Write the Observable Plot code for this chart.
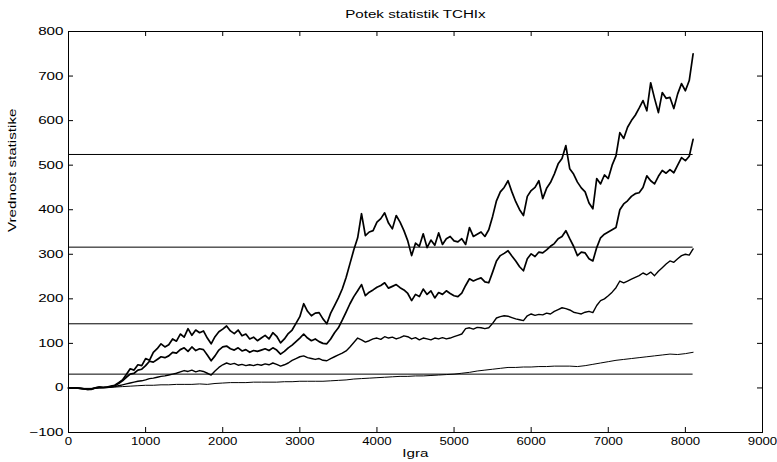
<!DOCTYPE html>
<html>
<head>
<meta charset="utf-8">
<script src="https://cdn.jsdelivr.net/npm/d3@7"></script>
<script src="https://cdn.jsdelivr.net/npm/@observablehq/plot@0.6"></script>
<style>
  html, body { margin: 0; padding: 0; background: #fff; }
  svg { display: block; }
</style>
</head>
<body>
<script>
const titleText = "Potek statistik TCHIx";
const xLabel = "Igra";
const yLabel = "Vrednost statistike";
const xTicks = [0, 1000, 2000, 3000, 4000, 5000, 6000, 7000, 8000, 9000];
const yTicks = [-100, 0, 100, 200, 300, 400, 500, 600, 700, 800];
const lastGame = 8100;
const thresholds = [31, 144, 316, 524];

// series sampled every 50 games (rows of 10 = 500 games)
const stepABC = 50;
const seriesA = [
  [0, 0, 0, -1, -2, -3, -3, 0, 2, 1],
  [2, 4, 6, 12, 18, 30, 43, 40, 52, 50],
  [66, 62, 80, 88, 99, 92, 97, 110, 105, 121],
  [114, 133, 118, 130, 124, 128, 112, 99, 115, 126],
  [132, 139, 128, 122, 130, 117, 121, 110, 114, 106],
  [112, 118, 110, 124, 116, 101, 110, 122, 130, 145],
  [160, 189, 172, 162, 168, 169, 155, 144, 168, 185],
  [202, 222, 248, 279, 310, 337, 391, 342, 350, 353],
  [372, 380, 393, 370, 357, 387, 372, 353, 330, 297],
  [325, 318, 346, 315, 332, 320, 348, 322, 335, 340],
  [330, 328, 335, 322, 360, 340, 345, 350, 340, 355],
  [385, 420, 440, 450, 465, 440, 418, 400, 387, 430],
  [443, 450, 465, 425, 448, 461, 480, 503, 515, 544],
  [492, 480, 462, 449, 440, 415, 402, 470, 458, 478],
  [470, 500, 521, 573, 560, 585, 600, 612, 628, 645],
  [622, 685, 650, 618, 663, 650, 652, 627, 660, 683],
  [667, 690, 750]
].flat();
const seriesB = [
  [0, 0, 0, -1, -2, -3, -2, 0, 2, 1],
  [2, 3, 5, 10, 16, 24, 31, 33, 40, 42],
  [50, 60, 58, 64, 70, 68, 72, 80, 78, 86],
  [90, 82, 92, 84, 88, 86, 74, 61, 72, 85],
  [92, 94, 88, 85, 90, 83, 86, 80, 84, 82],
  [85, 88, 84, 90, 85, 76, 82, 90, 96, 104],
  [112, 121, 112, 106, 110, 104, 100, 99, 110, 124],
  [135, 152, 170, 189, 205, 218, 232, 207, 215, 220],
  [226, 230, 236, 224, 228, 232, 225, 220, 212, 196],
  [210, 205, 222, 210, 218, 202, 214, 210, 218, 212],
  [207, 205, 213, 230, 245, 240, 244, 247, 238, 236],
  [260, 285, 297, 302, 308, 296, 285, 272, 263, 290],
  [301, 295, 305, 303, 310, 318, 324, 335, 340, 353],
  [335, 318, 297, 305, 303, 290, 285, 315, 337, 345],
  [350, 355, 360, 400, 413, 420, 430, 436, 438, 450],
  [476, 465, 458, 475, 488, 482, 490, 483, 500, 517],
  [510, 520, 558]
].flat();
const seriesC = [
  [0, 0, 0, -1, -2, -2, -2, 0, 1, 1],
  [1, 2, 3, 5, 7, 9, 11, 13, 15, 16],
  [18, 21, 22, 24, 26, 27, 29, 31, 33, 36],
  [39, 37, 40, 36, 39, 37, 33, 29, 38, 46],
  [52, 56, 53, 55, 51, 53, 50, 52, 50, 53],
  [51, 54, 52, 56, 53, 49, 52, 56, 62, 66],
  [70, 72, 68, 66, 64, 66, 62, 61, 66, 70],
  [74, 78, 83, 92, 102, 112, 108, 103, 106, 110],
  [112, 109, 115, 112, 114, 110, 113, 117, 115, 110],
  [113, 108, 112, 110, 108, 112, 110, 113, 110, 112],
  [115, 118, 121, 133, 135, 132, 136, 135, 133, 135],
  [145, 157, 160, 162, 161, 158, 155, 153, 151, 162],
  [166, 163, 165, 164, 168, 166, 172, 176, 180, 178],
  [175, 170, 168, 166, 170, 172, 169, 185, 196, 200],
  [207, 215, 225, 240, 236, 240, 244, 248, 252, 258],
  [254, 260, 252, 262, 270, 278, 285, 282, 290, 297],
  [300, 298, 312]
].flat();
// bottom series sampled every 100 games
const stepD = 100;
const seriesD = [
  [0, 0, -1, -1, 0, 1, 2, 3, 4, 5],
  [6, 6, 7, 7, 8, 8, 8, 9, 8, 10],
  [11, 12, 12, 12, 13, 13, 13, 13, 14, 14],
  [15, 15, 15, 15, 16, 17, 18, 20, 21, 22],
  [23, 24, 25, 26, 26, 27, 27, 28, 29, 30],
  [31, 33, 35, 38, 40, 42, 44, 46, 46, 47],
  [47, 48, 48, 49, 49, 49, 48, 50, 53, 56],
  [59, 62, 64, 66, 68, 70, 72, 74, 76, 75],
  [77, 80]
].flat();

const toPoints = (arr, step) => arr.map((v, i) => ({x: i * step, y: v}));

const W = 777, H = 462;
const mL = 68, mR = 15, mT = 31, mB = 30;
const frameW = W - mL - mR, frameH = H - mT - mB;
const tickLen = 5;
const font = "'Liberation Sans', Arial, Helvetica, sans-serif";

const chart = Plot.plot({
  width: W,
  height: H,
  marginLeft: mL,
  marginRight: mR,
  marginTop: mT,
  marginBottom: mB,
  style: {fontFamily: font, fontSize: "11px", color: "black", background: "white"},
  x: {domain: [0, 9000], ticks: xTicks, tickSize: 0, tickPadding: 5, tickFormat: d3.format("d"), label: null},
  y: {domain: [-100, 800], ticks: yTicks, tickSize: 0, tickPadding: 5, tickFormat: d3.format("d"), label: null},
  marks: [
    Plot.ruleY(thresholds, {y: d => d, x1: 0, x2: lastGame, stroke: "black", strokeWidth: 1}),
    Plot.line(toPoints(seriesD, stepD), {x: "x", y: "y", stroke: "black", strokeWidth: 1}),
    Plot.line(toPoints(seriesC, stepABC), {x: "x", y: "y", stroke: "black", strokeWidth: 1.4}),
    Plot.line(toPoints(seriesB, stepABC), {x: "x", y: "y", stroke: "black", strokeWidth: 1.7}),
    Plot.line(toPoints(seriesA, stepABC), {x: "x", y: "y", stroke: "black", strokeWidth: 1.7}),
    // inward ticks on all four sides
    Plot.tickX(xTicks, {x: d => d, insetTop: frameH - tickLen, stroke: "black"}),
    Plot.tickX(xTicks, {x: d => d, insetBottom: frameH - tickLen, stroke: "black"}),
    Plot.tickY(yTicks, {y: d => d, insetRight: frameW - tickLen, stroke: "black"}),
    Plot.tickY(yTicks, {y: d => d, insetLeft: frameW - tickLen, stroke: "black"}),
    Plot.frame({stroke: "black", strokeWidth: 1}),
    Plot.text([titleText], {text: d => d, frameAnchor: "top", dy: -21, fontSize: 11}),
    Plot.text([xLabel], {text: d => d, frameAnchor: "bottom", dy: 24, fontSize: 11}),
    Plot.text([yLabel], {text: d => d, frameAnchor: "left", dx: -56, rotate: -90, fontSize: 11})
  ]
});

document.body.append(chart);

// widen glyphs horizontally to mimic the stretched Helvetica of the original
chart.querySelectorAll("text").forEach(t => {
  const b = t.getBBox();
  const anchor = getComputedStyle(t).textAnchor;
  const ax = anchor === "end" ? b.x + b.width : anchor === "middle" ? b.x + b.width / 2 : b.x;
  const isXTick = t.closest("g[aria-label='x-axis tick label']") !== null;
  const stretch = isXTick ? 1.2 : 1.38;
  const prev = t.getAttribute("transform") || "";
  t.setAttribute("transform", `${prev} translate(${ax},0) scale(${stretch},1) translate(${-ax},0)`);
});
</script>
</body>
</html>
